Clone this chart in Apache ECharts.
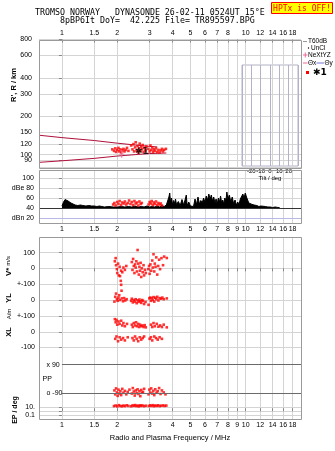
<!DOCTYPE html>
<html>
<head>
<meta charset="utf-8">
<script src="https://cdn.jsdelivr.net/npm/echarts@6/dist/echarts.min.js"></script>
<style>
html,body{margin:0;padding:0;background:#fff;}
#c{width:335px;height:451px;}
</style>
</head>
<body>
<div id="c"></div>
<script>
// ---- axis ticks ----
const freqTicks = [1, 1.5, 2, 3, 4, 5, 6, 7, 8, 9, 10, 12, 14, 16, 18];
const freqTicksTop = [1, 1.5, 2, 3, 4, 5, 6, 7, 8, 10, 12, 14, 16, 18];
const heightTicks = [80, 90, 100, 120, 150, 200, 300, 400, 600, 800];
const ampTicks = [20, 40, 60, 80, 100];
const ampTickText = ['dBn 20', '40', '60', 'dBe 80', '100'];
const tiltTicks = [-20, -10, 0, 10, 20];

// ---- model height traces (MHz, km) ----
const upperTrace = [[0.75, 142], [1.0, 136], [1.5, 129], [2.0, 123], [2.5, 119], [3.0, 116], [3.3, 115]];
const lowerTrace = [[0.75, 87], [1.0, 89.5], [1.5, 93.5], [2.0, 97.5], [2.5, 100], [3.0, 102], [3.7, 103]];

// ---- echoes: virtual height (MHz, km) ----
const echoHeight = [
  [1.88, 110], [1.92, 107], [1.95, 112], [1.97, 105], [2.00, 109], [2.03, 113], [2.05, 106], [2.08, 110],
  [2.10, 104], [2.13, 108], [2.16, 111], [2.19, 106], [2.22, 109], [2.26, 113], [2.30, 107],
  [2.38, 118], [2.42, 110], [2.45, 121], [2.47, 106], [2.50, 114], [2.52, 125], [2.55, 108], [2.58, 117],
  [2.60, 104], [2.62, 112], [2.65, 122], [2.67, 107], [2.70, 115], [2.72, 110], [2.75, 119], [2.78, 105],
  [2.80, 113], [2.84, 108], [2.88, 116],
  [2.95, 111], [3.00, 106], [3.03, 118], [3.06, 109], [3.10, 114], [3.13, 105], [3.16, 110], [3.20, 107],
  [3.25, 112], [3.30, 105], [3.35, 109], [3.40, 104], [3.45, 108], [3.50, 111], [3.55, 106], [3.60, 109],
  [3.68, 111]
];
// NeXtYZ error bar (MHz, low km, mid km, high km)
const nextyz = [2.116, 94.5, 101, 109];
// trace annotation (MHz, km)
const traceTag = [2.72, 105];

// ---- amplitude: T60dB trace and echoes (MHz, dB) ----
const ampTrace = [
  [1.00, 44], [1.02, 52], [1.04, 57], [1.06, 59], [1.08, 54], [1.10, 57], [1.12, 50], [1.15, 48], [1.18, 46],
  [1.22, 45], [1.26, 46], [1.30, 45], [1.35, 44], [1.40, 45], [1.45, 44], [1.50, 44], [1.55, 43], [1.60, 44],
  [1.65, 43], [1.70, 42], [1.80, 43], [1.90, 42], [2.00, 42], [2.10, 43], [2.20, 42], [2.30, 43], [2.40, 42],
  [2.50, 44], [2.60, 42], [2.70, 43], [2.80, 42], [2.90, 44], [3.00, 42], [3.10, 43], [3.20, 42], [3.30, 44],
  [3.40, 42], [3.50, 45], [3.60, 43], [3.70, 46], [3.78, 44], [3.82, 62], [3.86, 70], [3.90, 52], [3.95, 60],
  [4.00, 46], [4.05, 55], [4.10, 49], [4.15, 58], [4.20, 47], [4.30, 53], [4.40, 45], [4.50, 57], [4.60, 46],
  [4.70, 50], [4.75, 66], [4.80, 45], [4.90, 52], [5.00, 44], [5.10, 47], [5.20, 43], [5.30, 58], [5.40, 47],
  [5.50, 62], [5.60, 48], [5.70, 55], [5.80, 50], [5.90, 60], [6.00, 52], [6.10, 64], [6.20, 56], [6.30, 68],
  [6.40, 58], [6.50, 66], [6.60, 54], [6.70, 62], [6.80, 50], [6.90, 58], [7.00, 48], [7.10, 60], [7.20, 52],
  [7.30, 64], [7.40, 50], [7.50, 56], [7.60, 48], [7.70, 60], [7.80, 54], [7.90, 72], [8.00, 58], [8.15, 66],
  [8.30, 52], [8.45, 62], [8.60, 48], [8.75, 56], [8.90, 46], [9.05, 52], [9.20, 47], [9.35, 58], [9.50, 55],
  [9.65, 68], [9.80, 60], [9.95, 70], [10.1, 62], [10.25, 66], [10.4, 50], [10.55, 46], [10.7, 48], [10.9, 44],
  [11.1, 46], [11.3, 43], [11.5, 45], [11.8, 43], [12.1, 44], [12.4, 42], [12.8, 43], [13.2, 42], [13.6, 42],
  [14.0, 41], [14.5, 42], [15.0, 41], [15.3, 41]
];
const echoAmp = [
  [1.90, 47], [1.93, 50], [1.96, 45], [2.00, 52], [2.03, 48], [2.06, 54], [2.10, 46], [2.13, 51], [2.17, 49],
  [2.20, 53], [2.24, 47], [2.28, 50], [2.32, 55], [2.36, 48], [2.40, 52], [2.44, 46], [2.48, 54], [2.52, 49],
  [2.56, 51], [2.60, 45], [2.64, 53], [2.68, 48], [2.72, 50], [2.96, 47], [3.00, 52], [3.04, 49], [3.08, 54],
  [3.12, 46], [3.16, 51], [3.20, 48], [3.25, 53], [3.30, 46], [3.35, 50], [3.40, 47], [3.45, 49], [3.50, 45]
];

// ---- echoes: Doppler velocity V* (MHz, m/s) ----
const echoVstar = [
  [1.94, 45], [1.96, 65], [1.97, 20], [1.99, -5], [2.00, -30], [2.02, 30], [2.04, -45], [2.06, 10], [2.07, -50],
  [2.09, -80], [2.10, -15], [2.13, -25], [2.16, 5], [2.20, -10], [2.24, 15],
  [2.40, 40], [2.42, -10], [2.44, 60], [2.46, 15], [2.48, -30], [2.50, 25], [2.52, 5], [2.54, 45], [2.56, -20],
  [2.58, 117], [2.60, 30], [2.62, -40], [2.64, 10], [2.66, -15], [2.68, 35], [2.70, -55], [2.72, 0], [2.75, -25],
  [2.78, 20], [2.80, -45], [2.83, -10], [2.86, -30],
  [2.95, -5], [2.98, 15], [3.00, -35], [3.03, 25], [3.06, -15], [3.10, 50], [3.12, 5], [3.15, 90], [3.18, -20],
  [3.20, 30], [3.23, 10], [3.26, 70], [3.30, -40], [3.34, 15], [3.38, 55], [3.42, -5], [3.48, 65], [3.55, 20],
  [3.60, 75], [3.72, 66]
];
// ---- echoes: YL (MHz, A/m) ----
const echoYL = [
  [1.93, -10], [1.95, 20], [1.97, 40], [1.99, 5], [2.01, -5], [2.03, 15], [2.05, 30], [2.07, 0], [2.10, 95],
  [2.11, 58], [2.12, 10], [2.15, -8], [2.18, 12], [2.21, -3], [2.25, 5],
  [2.38, -5], [2.40, 8], [2.43, -15], [2.46, 0], [2.49, -10], [2.52, 5], [2.55, -20], [2.58, -2], [2.61, -12],
  [2.64, 3], [2.67, -8], [2.70, -18], [2.73, 0], [2.76, -5], [2.80, -25], [2.85, -12],
  [2.96, -30], [2.99, 10], [3.02, 15], [3.05, -5], [3.08, 12], [3.12, 0], [3.15, 18], [3.18, -10], [3.22, 14],
  [3.26, 5], [3.30, 20], [3.35, -3], [3.40, 12], [3.46, 8], [3.52, 15], [3.58, 5], [3.72, 10]
];
// ---- echoes: XL (MHz, A/m) ----
const echoXL = [
  [1.94, 80], [1.96, 60], [1.98, 75], [2.00, 45], [2.03, 65], [2.06, 50], [2.10, 70], [2.13, 40], [2.16, 55],
  [2.20, 35], [2.26, 50], [2.40, 45], [2.43, 30], [2.46, 55], [2.50, 40], [2.53, 60], [2.56, 35], [2.60, 50],
  [2.63, 30], [2.66, 45], [2.70, 35], [2.74, 40], [2.78, 30], [2.82, 42], [2.86, 28], [3.00, 104], [3.05, 45],
  [3.10, 30], [3.15, 55], [3.20, 35], [3.28, 50], [3.35, 32], [3.42, 40], [3.50, 30], [3.58, 45], [3.72, 28],
  [1.95, -45], [1.98, -30], [2.02, -60], [2.06, -35], [2.10, -50], [2.15, -40], [2.20, -55], [2.28, -35],
  [2.42, -40], [2.46, -55], [2.50, -30], [2.55, -45], [2.60, -60], [2.65, -35], [2.70, -50], [2.75, -40],
  [2.80, -30], [3.00, -45], [3.05, -35], [3.10, -55], [3.18, -30], [3.25, -40], [3.32, -50], [3.40, -35], [3.50, -45]
];
// ---- echoes: polarization PP (MHz, deg) ----
const echoPP = [
  [1.93, -75], [1.95, -100], [1.97, -62], [1.99, -88], [2.01, -110], [2.03, -70], [2.05, -95], [2.08, -80],
  [2.10, -105], [2.13, -65], [2.16, -90], [2.20, -78], [2.24, -100], [2.28, -85], [2.33, -70],
  [2.40, -95], [2.43, -60], [2.46, -82], [2.49, -108], [2.52, -75], [2.55, -92], [2.58, -68], [2.61, -98],
  [2.64, -80], [2.67, -112], [2.70, -72], [2.73, -90], [2.76, -85], [2.80, -65],
  [2.96, -100], [2.99, -70], [3.02, -88], [3.06, -62], [3.10, -95], [3.14, -78], [3.18, -105], [3.22, -68],
  [3.27, -90], [3.32, -80], [3.38, -60], [3.44, -98], [3.50, -75], [3.58, -88], [3.66, -100]
];
// ---- echoes: EP (MHz, deg) ----
const echoEP = [
  [1.92, 18], [1.96, 25], [2.00, 15], [2.04, 30], [2.08, 20], [2.12, 16], [2.16, 24], [2.20, 18], [2.25, 28],
  [2.30, 20], [2.38, 16], [2.42, 26], [2.46, 21], [2.50, 32], [2.54, 18], [2.58, 24], [2.62, 15], [2.66, 28],
  [2.70, 20], [2.74, 26], [2.80, 17], [2.86, 22], [2.97, 19], [3.02, 27], [3.07, 20], [3.12, 30], [3.17, 17],
  [3.22, 24], [3.28, 20], [3.34, 28], [3.40, 18], [3.47, 22], [3.55, 26], [3.62, 20], [3.70, 24]
];

// ---- layout ----
const LOG = Math.log10;
const X0 = LOG(0.75), X1 = LOG(20);
const LEFT = 39, WIDTH = 262, RIGHT = 335 - LEFT - WIDTH;
const P = {
  top:  {top: 39.5, height: 127.5},
  amp:  {top: 170, height: 53},
  vs:   {top: 237, height: 47},
  yl:   {top: 284, height: 32},
  xl:   {top: 316, height: 31.5},
  pp:   {top: 347.5, height: 51.5},
  ep:   {top: 399, height: 20.3}
};
const GRID_C = '#d4d4d4';
const FRAME_C = '#9a9a9a';
const TILT_C = '#b2b2c8';
const SANS = '"Liberation Sans", Arial, sans-serif';
const MONO = '"DejaVu Sans Mono", "Liberation Mono", monospace';
const RED = '#ff0000';

const near = (a, b) => Math.abs(a - b) < 1e-6;
const freqLabel = v => { const f = freqTicks.find(t => near(LOG(t), v)); return f === undefined ? '' : String(f); };
const lookup = (vals, texts) => v => { const i = vals.findIndex(t => near(t, v)); return i < 0 ? '' : texts[i]; };
const toLogX = arr => arr.map(([f, y]) => [LOG(f), y]);

function freqAxis(gridIndex, labels, position, margin) {
  return {
    gridIndex, type: 'value', min: X0, max: X1, position: position || 'bottom',
    axisLine: {show: false},
    axisTick: {show: !!labels, inside: true, length: 3, lineStyle: {color: '#888'},
               customValues: freqTicks.map(LOG)},
    axisLabel: labels ? {show: true, customValues: labels.map(LOG), formatter: freqLabel,
               fontSize: 7, fontFamily: SANS, color: '#000', margin: margin} : {show: false},
    splitLine: {show: true, lineStyle: {color: GRID_C, width: 1}}
  };
}
function leftAxis(gridIndex, min, max, vals, texts, opts) {
  opts = opts || {};
  return {
    gridIndex, type: 'value', min, max,
    axisLine: {show: false},
    axisTick: {show: opts.tick !== false, length: 3, lineStyle: {color: '#888'}, customValues: vals},
    axisLabel: {show: true, customValues: vals, formatter: lookup(vals, texts), fontSize: 7,
                fontFamily: SANS, color: '#000', margin: opts.margin || 4, inside: !!opts.inside},
    splitLine: {show: opts.split !== false, lineStyle: {color: opts.splitColor || GRID_C, width: 1}}
  };
}

const grids = ['top', 'amp', 'vs', 'yl', 'xl', 'pp', 'ep'].map(k => ({
  left: LEFT, width: WIDTH, top: P[k].top, height: P[k].height, containLabel: false
}));
grids.push({left: 242, width: 56, top: 65, height: 101, show: true, borderColor: TILT_C, borderWidth: 1});

const xAxes = [
  freqAxis(0, freqTicksTop, 'top', 3),
  freqAxis(1),
  freqAxis(2, freqTicks, 'top', 4),
  freqAxis(3),
  freqAxis(4),
  freqAxis(5),
  Object.assign(freqAxis(6, freqTicks, 'bottom', 2), {
    name: 'Radio and Plasma Frequency / MHz', nameLocation: 'middle', nameGap: 15,
    nameTextStyle: {fontSize: 7.5, fontFamily: SANS, color: '#000'}
  }),
  {
    gridIndex: 7, type: 'value', min: -30, max: 30, interval: 10,
    axisLine: {show: false}, axisTick: {show: false},
    axisLabel: {customValues: tiltTicks, fontSize: 6, fontFamily: SANS, color: '#000', margin: 2},
    splitLine: {show: true, lineStyle: {color: TILT_C}},
    name: 'Tilt / deg', nameLocation: 'middle', nameGap: 9,
    nameTextStyle: {fontSize: 6, fontFamily: SANS, color: '#000'}
  }
];

const ampSplit = leftAxis(1, 10, 116, ampTicks, ampTickText, {margin: 5});
ampSplit.splitLine.lineStyle.color = ['rgba(0,0,0,0)', 'rgba(0,0,0,0)', GRID_C, GRID_C, GRID_C];

const yAxes = [
  leftAxis(0, LOG(80), LOG(800), heightTicks.map(LOG), heightTicks.map(String), {margin: 7}),
  ampSplit,
  leftAxis(2, -100, 200, [100, 0, -100], ['100', '0', '+-100']),
  leftAxis(3, -100, 100, [0, -100], ['0', '+-100']),
  leftAxis(4, -100, 100, [0, -100], ['0', '-100']),
  leftAxis(5, -130, 200, [90, -90], ['x 90', 'o -90'], {inside: true, margin: 7.5, split: false, tick: false}),
  leftAxis(6, -2, 3, [1, 0, -1], ['10.', '', '0.1']),
  {gridIndex: 7, type: 'value', min: 0, max: 1, show: false, splitLine: {show: false}}
];

function dots(xi, data) {
  return {
    type: 'scatter', xAxisIndex: xi, yAxisIndex: xi, data: data,
    symbol: 'rect', symbolSize: 2.6, itemStyle: {color: RED}, silent: true, z: 4
  };
}

const series = [
  {type: 'line', xAxisIndex: 0, yAxisIndex: 0, showSymbol: false, silent: true,
   data: upperTrace.map(([f, h]) => [LOG(f), LOG(h)]), lineStyle: {color: '#b0103a', width: 1}},
  {type: 'line', xAxisIndex: 0, yAxisIndex: 0, showSymbol: false, silent: true,
   data: lowerTrace.map(([f, h]) => [LOG(f), LOG(h)]), lineStyle: {color: '#b0103a', width: 1}},
  dots(0, echoHeight.map(([f, h]) => [LOG(f), LOG(h)])),
  {type: 'line', xAxisIndex: 0, yAxisIndex: 0, showSymbol: false, silent: true, z: 5,
   data: [[LOG(nextyz[0]), LOG(nextyz[1])], [LOG(nextyz[0]), LOG(nextyz[3])]],
   lineStyle: {color: '#f06a95', width: 1}},
  {type: 'scatter', xAxisIndex: 0, yAxisIndex: 0, silent: true, z: 5,
   data: [[LOG(nextyz[0]), LOG(nextyz[2])]], symbol: 'rect', symbolSize: [5, 1],
   itemStyle: {color: '#f06a95'}},
  {type: 'scatter', xAxisIndex: 0, yAxisIndex: 0, silent: true, z: 6,
   data: [[LOG(traceTag[0]), LOG(traceTag[1])]], symbolSize: 0,
   label: {show: true, position: 'inside', formatter: '✱1', fontSize: 9, fontWeight: 'bold',
           fontFamily: '"DejaVu Sans", sans-serif', color: '#000'}},
  {type: 'line', xAxisIndex: 1, yAxisIndex: 1, showSymbol: false, silent: true, z: 3,
   data: toLogX(ampTrace), lineStyle: {color: '#000', width: 1},
   areaStyle: {color: '#000', opacity: 1, origin: 40},
   markLine: {silent: true, symbol: ['none', 'none'], label: {show: false}, animation: false,
     data: [
       {yAxis: 40, lineStyle: {color: '#333', width: 1, type: 'solid'}},
       {yAxis: 20, lineStyle: {color: '#b8b8e6', width: 1, type: 'solid'}}
     ]}},
  dots(1, toLogX(echoAmp)),
  dots(2, toLogX(echoVstar)),
  dots(3, toLogX(echoYL)),
  dots(4, toLogX(echoXL)),
  Object.assign(dots(5, toLogX(echoPP)), {
    markLine: {silent: true, symbol: ['none', 'none'], label: {show: false}, animation: false,
      lineStyle: {color: '#6a6a6a', width: 1, type: 'solid'},
      data: [
        [{coord: [0, 90]}, {coord: [X1, 90]}],
        [{coord: [0, -90]}, {coord: [X1, -90]}]
      ]}
  }),
  dots(6, echoEP.map(([f, e]) => [LOG(f), LOG(e)]))
];

// ---- frames, titles, legend ----
const frame = k => ({
  type: 'rect', z: 10, silent: true,
  shape: {x: LEFT + 0.5, y: Math.round(P[k].top) + 0.5, width: WIDTH,
          height: Math.round(P[k].height)},
  style: {fill: null, stroke: FRAME_C, lineWidth: 1}
});
const bottomTop = P.vs.top, bottomBot = P.ep.top + P.ep.height;
const txt = (x, y, text, extra) => Object.assign({
  type: 'text', x, y, silent: true, z: 20,
  style: Object.assign({text, fill: '#000', font: '7px ' + SANS, textAlign: 'left', textVerticalAlign: 'middle'},
    extra && extra.style)
}, extra && extra.el);
const seg = (x1, y1, x2, y2, color) => ({
  type: 'line', silent: true, z: 20, shape: {x1, y1, x2, y2}, style: {stroke: color, lineWidth: 1}
});
const ROT = Math.PI / 2;

const graphic = [
  frame('top'), frame('amp'),
  {type: 'rect', z: 10, silent: true,
   shape: {x: LEFT + 0.5, y: bottomTop + 0.5, width: WIDTH, height: Math.round(bottomBot - bottomTop)},
   style: {fill: null, stroke: FRAME_C, lineWidth: 1}},
  // header
  txt(35, 12.5, 'TROMSO NORWAY   DYNASONDE 26-02-11 0524UT 15°E', {style: {font: '8.3px ' + MONO}}),
  txt(60, 20.5, '8pBP6It DoY=  42.225 File= TR895597.BPG', {style: {font: '8.3px ' + MONO}}),
  {type: 'rect', silent: true, z: 20, shape: {x: 271.5, y: 2.5, width: 61, height: 11},
   style: {fill: '#ffff00', stroke: '#ff0000', lineWidth: 1}},
  txt(302, 8.5, 'HPTx is OFF!', {style: {font: '8px ' + MONO, fill: '#ff0000', textAlign: 'center'}}),
  // side titles
  txt(13.5, 85, "R', R / km", {el: {rotation: ROT}, style: {font: 'bold 7.5px ' + SANS, textAlign: 'center'}}),
  txt(8.5, 266, '{a|V*} {b|m/s}', {el: {rotation: ROT}, style: {textAlign: 'center',
     rich: {a: {fontSize: 8, fontWeight: 'bold', fontFamily: SANS}, b: {fontSize: 6, fontFamily: SANS}}}}),
  txt(9, 298, 'YL', {el: {rotation: ROT}, style: {font: 'bold 7.5px ' + SANS, textAlign: 'center'}}),
  txt(9, 314, 'A/m', {el: {rotation: ROT}, style: {font: '6px ' + SANS, textAlign: 'center'}}),
  txt(9, 332, 'XL', {el: {rotation: ROT}, style: {font: 'bold 7.5px ' + SANS, textAlign: 'center'}}),
  txt(15, 410, 'EP / deg', {el: {rotation: ROT}, style: {font: 'bold 7px ' + SANS, textAlign: 'center'}}),
  txt(42.5, 379, 'PP', {style: {font: '7px ' + SANS}}),
  // legend
  seg(303, 41.5, 307, 41.5, '#999'),
  txt(308, 41.5, 'T60dB', {style: {font: '6.5px ' + SANS}}),
  {type: 'circle', silent: true, z: 20, shape: {cx: 308.5, cy: 48, r: 0.7}, style: {fill: '#000'}},
  txt(311, 48, 'UnCl', {style: {font: '6.5px ' + SANS}}),
  seg(303, 55, 307.5, 55, '#f06a95'),
  seg(305.25, 52.5, 305.25, 57.5, '#f06a95'),
  txt(308, 55, 'NeXtYZ', {style: {font: '6.5px ' + SANS}}),
  seg(303, 63, 307.5, 63, '#f06a95'),
  txt(308, 63, 'Θx', {style: {font: '6.5px ' + SANS}}),
  seg(316.5, 63, 324, 63, '#7272d8'),
  txt(324.5, 63, 'Θy', {style: {font: '6.5px ' + SANS}}),
  {type: 'rect', silent: true, z: 20, shape: {x: 306, y: 71, width: 3, height: 3}, style: {fill: RED}},
  txt(313, 72.5, '✱1', {style: {font: 'bold 9px "DejaVu Sans", sans-serif'}})
];

const chart = echarts.init(document.getElementById('c'), null, {renderer: 'canvas', width: 335, height: 451});
chart.setOption({
  animation: false,
  backgroundColor: '#fff',
  grid: grids,
  xAxis: xAxes,
  yAxis: yAxes,
  series: series,
  graphic: graphic
});
</script>
</body>
</html>
